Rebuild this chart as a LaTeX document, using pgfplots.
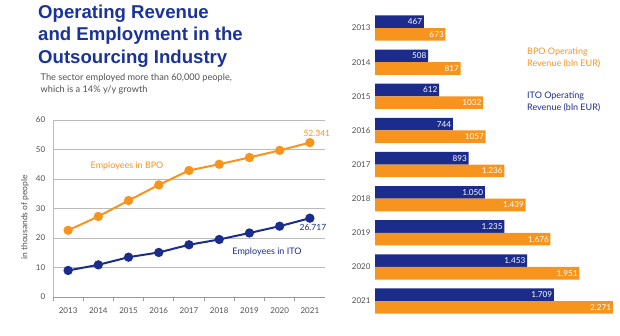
\documentclass[border=0pt]{standalone}
\usepackage{pgfplots}
\pgfplotsset{compat=1.18}
\usepackage{fontspec}
\setmainfont{Lato}
\newfontfamily\titlefont{Liberation Sans}
\definecolor{bpo}{HTML}{F7941D}
\definecolor{ito}{HTML}{1B2C8C}
\definecolor{ttl}{HTML}{1A3399}
\definecolor{txt}{HTML}{505050}
\definecolor{grd}{HTML}{BBBBBB}
\pgfplotstableread{
x y label
8 467 467
7 508 508
6 612 612
5 744 744
4 893 893
3 1050 1.050
2 1235 1.235
1 1453 1.453
0 1709 1.709
}\itotab
\pgfplotstableread{
x y label
8 673 673
7 817 817
6 1032 1032
5 1057 1057
4 1236 1.236
3 1439 1.439
2 1676 1.676
1 1951 1.951
0 2271 2.271
}\bpotab
\begin{document}
\begin{tikzpicture}
\useasboundingbox (0pt,0pt) rectangle (620pt,336pt);
% title
\node[anchor=base west,inner sep=0pt,text=ttl,font=\titlefont\bfseries\fontsize{18.6}{20}\selectfont] at (38pt,317.7pt) {Operating Revenue};
\node[anchor=base west,inner sep=0pt,text=ttl,font=\titlefont\bfseries\fontsize{18.6}{20}\selectfont] at (38pt,295.3pt) {and Employment in the};
\node[anchor=base west,inner sep=0pt,text=ttl,font=\titlefont\bfseries\fontsize{18.6}{20}\selectfont] at (38pt,272.7pt) {Outsourcing Industry};
\node[anchor=base west,inner sep=0pt,text=txt,font=\fontsize{9.2}{11}\selectfont] at (40.5pt,255pt) {The sector employed more than 60,000 people,};
\node[anchor=base west,inner sep=0pt,text=txt,font=\fontsize{9.2}{11}\selectfont] at (40.5pt,243pt) {which is a 14\% y/y growth};
% line chart
\begin{axis}[at={(53pt,39pt)},anchor=south west,scale only axis,
  width=272pt,height=177pt,
  xmin=-0.5,xmax=8.5,ymin=0,ymax=60,
  axis lines*=left,
  axis line style={draw=grd,line width=0.8pt},
  x axis line style={draw=gray!80},
  xtick={0,...,8},
  xticklabels={2013,2014,2015,2016,2017,2018,2019,2020,2021},
  minor xtick={-0.5,0.5,...,7.5},
  major x tick style={draw=none},
  minor x tick style={draw=gray!80,line width=0.8pt},
  minor tick length=4pt,
  tick align=outside,
  ytick={0,10,...,60},
  major y tick style={draw=none},
  ymajorgrids,
  grid style={draw=grd,line width=0.9pt},
  tick label style={text=txt,font=\fontsize{8}{9}\selectfont},
  /pgf/number format/assume math mode=true,
  xticklabel style={yshift=-3pt},
  ylabel={in thousands of people},
  ylabel style={text=txt,font=\fontsize{8.5}{9}\selectfont,at={(axis description cs:-0.103,0.45)},anchor=center},
  clip=false,
]
\addplot[bpo,line width=2pt,mark=*,mark size=3.6pt] coordinates {
(0,22.6) (1,27.3) (2,32.7) (3,38.0) (4,42.9) (5,45.0) (6,47.3) (7,49.7) (8,52.341)};
\addplot[ito,line width=2pt,mark=*,mark size=3.6pt] coordinates {
(0,9.0) (1,10.9) (2,13.5) (3,15.1) (4,17.7) (5,19.5) (6,21.7) (7,24.0) (8,26.717)};
\node[text=bpo,font=\fontsize{9}{10}\selectfont] at (axis cs:1.95,44.5) {Employees in BPO};
\node[text=ito,font=\fontsize{9}{10}\selectfont] at (axis cs:6.58,15.25) {Employees in ITO};
\node[text=bpo,font=\fontsize{8.5}{9}\selectfont] at (axis cs:8.23,55.6) {52.341};
\node[text=ito,font=\fontsize{8.5}{9}\selectfont] at (axis cs:8.1,23.7) {26.717};
\end{axis}
% bar chart
\begin{axis}[at={(375pt,17.9pt)},anchor=south west,scale only axis,
  width=240.8pt,height=307.1pt,
  xbar,bar width=12.6pt,
  xmin=0,xmax=2300,ymin=-0.5,ymax=8.5,
  axis x line=none,
  axis y line*=left,
  y axis line style={draw=none},
  ytick={0,...,8},
  yticklabels={2021,2020,2019,2018,2017,2016,2015,2014,2013},
  major tick length=0pt,
  yticklabel style={text=txt,font=\fontsize{8}{9}\selectfont,xshift=-1pt},
  clip=false,
]
\addplot[fill=ito,draw=none,bar shift=6.3pt,
  nodes near coords,point meta=explicit symbolic,
  every node near coord/.append style={anchor=east,text=white,font=\fontsize{8.2}{9}\selectfont,inner sep=1.5pt}]
  table[x=y,y=x,meta=label]{\itotab};
\addplot[fill=bpo,draw=none,bar shift=-6.3pt,
  nodes near coords,point meta=explicit symbolic,
  every node near coord/.append style={anchor=east,text=white,font=\fontsize{8.2}{9}\selectfont,inner sep=1.5pt}]
  table[x=y,y=x,meta=label]{\bpotab};
\end{axis}
\node[anchor=base west,inner sep=0pt,text=bpo,font=\fontsize{9}{10}\selectfont,align=left] at (527pt,281pt) {BPO Operating};
\node[anchor=base west,inner sep=0pt,text=bpo,font=\fontsize{9}{10}\selectfont,align=left] at (527pt,269pt) {Revenue (bln EUR)};
\node[anchor=base west,inner sep=0pt,text=ito,font=\fontsize{9}{10}\selectfont,align=left] at (527pt,237.5pt) {ITO Operating};
\node[anchor=base west,inner sep=0pt,text=ito,font=\fontsize{9}{10}\selectfont,align=left] at (527pt,225pt) {Revenue (bln EUR)};
\end{tikzpicture}
\end{document}
